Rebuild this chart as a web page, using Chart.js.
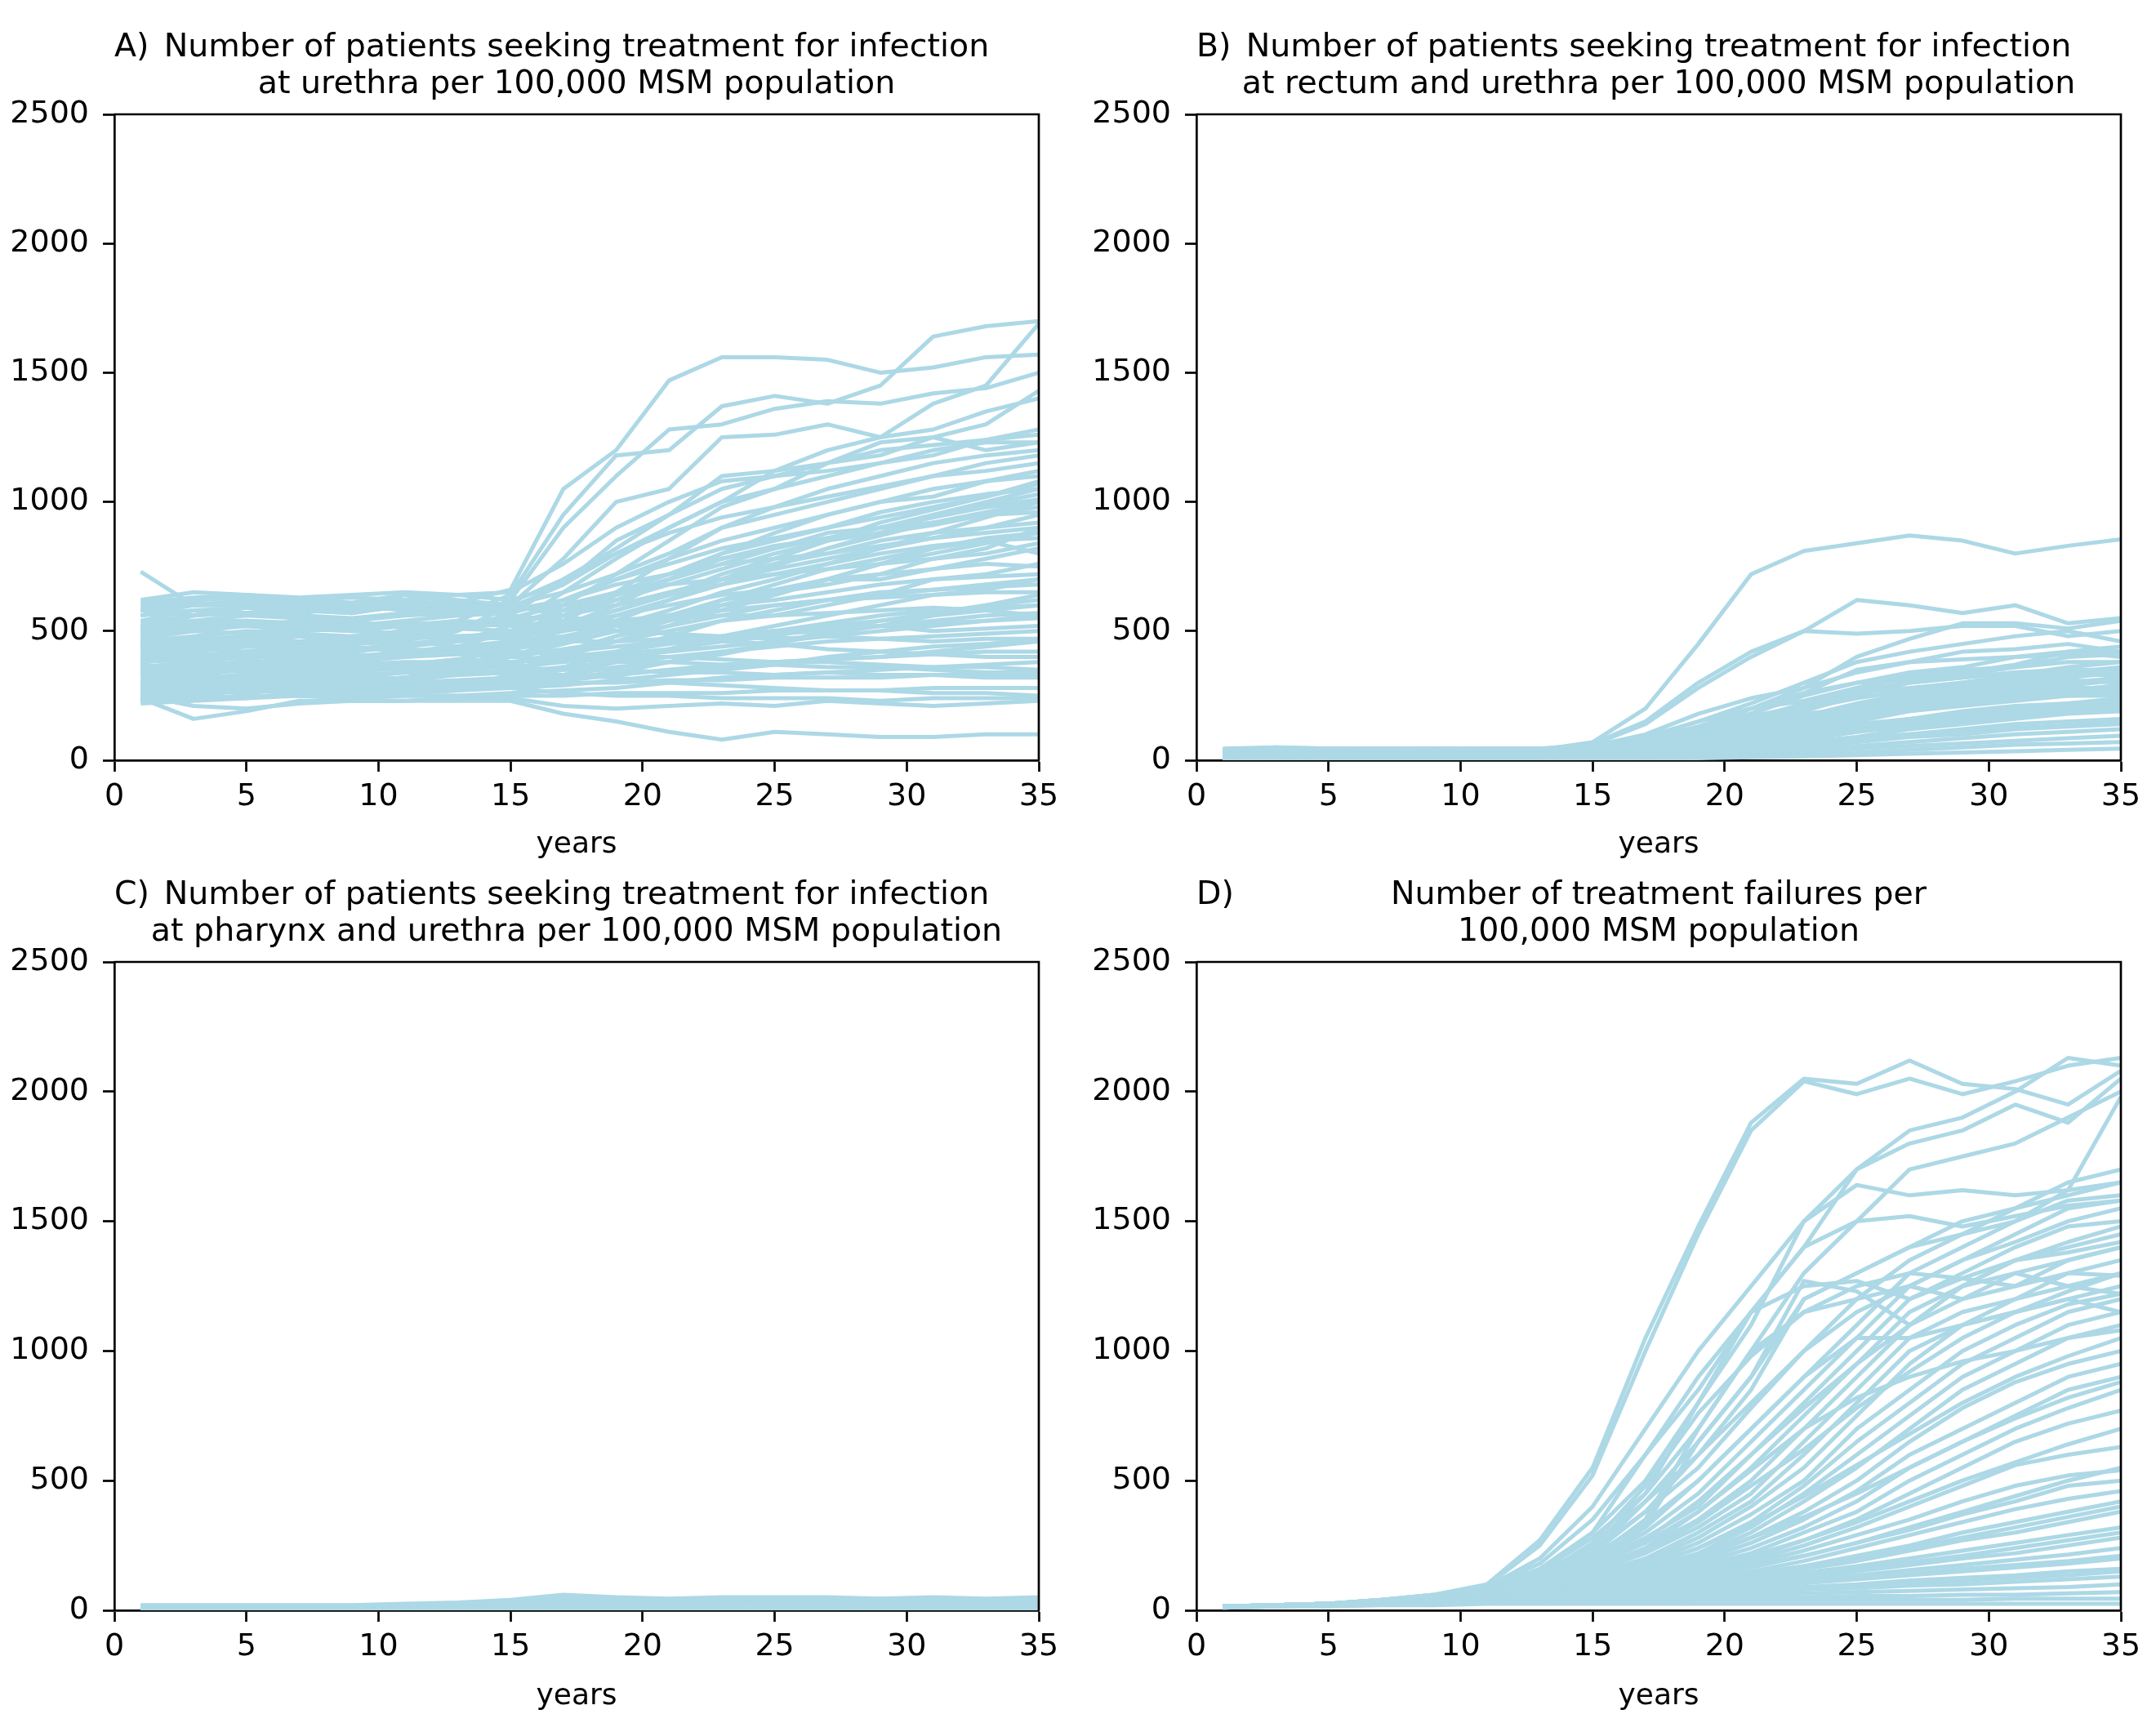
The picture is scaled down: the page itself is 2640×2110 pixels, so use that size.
<!DOCTYPE html>
<html>
<head>
<meta charset="utf-8">
<script src="https://cdn.jsdelivr.net/npm/chart.js@4.4.1/dist/chart.umd.min.js"></script>
<style>
  html, body { margin: 0; padding: 0; background: #fff; }
  #page { position: relative; width: 2640px; height: 2110px; background: #fff; }
  canvas { position: absolute; }
</style>
</head>
<body>
<div id="page">
  <canvas id="panelA" width="1320" height="1055" style="left:0;top:0"></canvas>
  <canvas id="panelB" width="1320" height="1055" style="left:1320px;top:0"></canvas>
  <canvas id="panelC" width="1320" height="1055" style="left:0;top:1055px"></canvas>
  <canvas id="panelD" width="1320" height="1055" style="left:1320px;top:1055px"></canvas>
</div>
<script>
// simulation years (every second year)
const years = [1, 3, 5, 7, 9, 11, 13, 15, 17, 19, 21, 23, 25, 27, 29, 31, 33, 35];
const yTicks = [0, 500, 1000, 1500, 2000, 2500];
const xTicks = [0, 5, 10, 15, 20, 25, 30, 35];

// A) urethra
const urethraRuns = [
  [500, 560, 600, 580, 570, 600, 610, 660, 1050, 1200, 1470, 1560, 1560, 1550, 1500, 1520, 1560, 1570],
  [450, 520, 540, 530, 520, 540, 560, 640, 950, 1180, 1200, 1370, 1410, 1380, 1450, 1640, 1680, 1700],
  [480, 500, 520, 510, 500, 520, 540, 620, 900, 1100, 1280, 1300, 1360, 1390, 1380, 1420, 1440, 1500],
  [400, 430, 450, 460, 450, 470, 500, 600, 780, 1000, 1050, 1250, 1260, 1300, 1250, 1380, 1450, 1690],
  [420, 450, 470, 460, 480, 500, 520, 560, 700, 820, 950, 1050, 1100, 1150, 1230, 1250, 1300, 1430],
  [380, 400, 420, 430, 420, 440, 460, 520, 650, 780, 900, 1000, 1120, 1200, 1250, 1280, 1350, 1400],
  [350, 380, 400, 410, 400, 420, 440, 500, 600, 720, 850, 980, 1050, 1150, 1200, 1220, 1240, 1260],
  [500, 540, 560, 550, 540, 560, 570, 590, 680, 800, 900, 1000, 1050, 1100, 1150, 1200, 1230, 1230],
  [330, 360, 380, 390, 380, 400, 420, 460, 560, 650, 780, 900, 980, 1050, 1100, 1150, 1180, 1200],
  [560, 600, 610, 600, 590, 610, 600, 600, 650, 720, 800, 900, 950, 1000, 1050, 1100, 1120, 1150],
  [300, 330, 350, 360, 350, 370, 390, 430, 520, 600, 700, 800, 880, 950, 1000, 1050, 1080, 1100],
  [460, 480, 500, 490, 480, 500, 510, 530, 580, 650, 720, 800, 850, 900, 960, 1000, 1030, 1050],
  [280, 300, 320, 330, 320, 340, 360, 400, 470, 540, 620, 700, 780, 850, 900, 950, 980, 1000],
  [540, 580, 590, 580, 570, 600, 590, 580, 600, 640, 700, 760, 820, 880, 900, 920, 950, 960],
  [400, 420, 440, 440, 430, 450, 460, 480, 520, 580, 640, 700, 760, 800, 850, 880, 900, 920],
  [260, 280, 300, 310, 300, 320, 340, 370, 420, 480, 540, 620, 680, 740, 780, 820, 850, 860],
  [600, 620, 630, 620, 610, 640, 620, 600, 580, 600, 640, 680, 720, 760, 800, 830, 850, 800],
  [360, 380, 400, 400, 390, 410, 420, 440, 470, 520, 560, 600, 650, 700, 720, 740, 760, 750],
  [440, 460, 470, 460, 460, 470, 480, 490, 500, 530, 560, 600, 620, 650, 680, 700, 710, 720],
  [320, 340, 360, 360, 350, 370, 380, 400, 430, 460, 500, 540, 580, 620, 650, 660, 670, 680],
  [500, 520, 530, 520, 510, 520, 530, 520, 520, 540, 560, 580, 600, 620, 630, 640, 650, 650],
  [240, 260, 270, 280, 270, 290, 300, 320, 350, 390, 430, 470, 500, 530, 560, 580, 590, 600],
  [580, 600, 600, 590, 580, 590, 580, 560, 540, 540, 550, 560, 560, 570, 580, 590, 580, 560],
  [380, 390, 400, 400, 390, 400, 410, 410, 420, 440, 460, 480, 500, 510, 520, 530, 540, 550],
  [300, 310, 320, 320, 310, 320, 330, 340, 360, 380, 400, 420, 440, 460, 470, 480, 490, 500],
  [460, 470, 480, 480, 470, 480, 480, 470, 460, 460, 470, 480, 470, 480, 470, 460, 470, 470],
  [260, 270, 280, 280, 270, 280, 290, 300, 310, 330, 350, 370, 380, 390, 400, 410, 420, 420],
  [220, 230, 240, 250, 240, 250, 250, 260, 270, 280, 300, 320, 330, 340, 350, 360, 370, 380],
  [340, 350, 360, 360, 350, 360, 360, 360, 350, 350, 340, 340, 330, 340, 330, 330, 320, 320],
  [420, 430, 440, 430, 430, 430, 420, 420, 410, 400, 400, 390, 380, 380, 370, 360, 360, 350],
  [230, 240, 250, 250, 240, 250, 250, 250, 250, 260, 260, 260, 270, 270, 270, 280, 280, 280],
  [730, 600, 620, 610, 600, 640, 610, 600, 560, 520, 490, 460, 450, 430, 420, 410, 400, 400],
  [240, 160, 190, 230, 230, 230, 230, 230, 180, 150, 110, 80, 110, 100, 90, 90, 100, 100],
  [250, 210, 200, 220, 230, 230, 240, 240, 210, 200, 210, 220, 210, 230, 220, 210, 220, 230],
  [620, 650, 640, 630, 640, 650, 640, 620, 680, 850, 950, 1100, 1120, 1150, 1180, 1250, 1200, 1230],
  [360, 370, 380, 370, 370, 380, 380, 400, 450, 500, 560, 620, 650, 680, 720, 780, 820, 900],
  [290, 300, 300, 300, 290, 300, 310, 320, 330, 360, 380, 420, 450, 500, 540, 570, 600, 620],
  [520, 540, 540, 530, 520, 530, 530, 540, 560, 600, 650, 700, 740, 780, 820, 860, 900, 950],
  [400, 410, 410, 400, 400, 410, 410, 400, 390, 380, 380, 370, 370, 360, 360, 350, 340, 340],
  [270, 280, 290, 290, 280, 290, 290, 290, 300, 300, 310, 310, 320, 320, 320, 330, 330, 330],
  [330, 300, 320, 340, 330, 310, 330, 350, 400, 460, 520, 600, 640, 700, 760, 800, 840, 880],
  [470, 500, 490, 510, 500, 490, 510, 540, 620, 700, 760, 820, 860, 900, 940, 980, 1020, 1080],
  [560, 580, 570, 590, 600, 580, 570, 580, 620, 700, 780, 850, 900, 950, 1000, 1020, 1080, 1120],
  [250, 270, 260, 280, 290, 270, 280, 300, 330, 380, 430, 480, 520, 560, 600, 640, 660, 700],
  [610, 630, 640, 620, 630, 620, 640, 650, 760, 900, 1000, 1080, 1100, 1120, 1150, 1180, 1240, 1280],
  [350, 360, 340, 360, 370, 350, 360, 380, 400, 420, 450, 470, 490, 500, 520, 540, 560, 570],
  [430, 440, 450, 440, 450, 460, 440, 460, 480, 520, 580, 650, 700, 760, 820, 880, 940, 1000],
  [510, 530, 520, 540, 530, 520, 540, 530, 510, 500, 490, 480, 500, 510, 520, 500, 510, 520],
  [280, 290, 300, 290, 300, 310, 300, 310, 320, 340, 380, 410, 450, 490, 520, 560, 580, 600],
  [390, 400, 420, 410, 400, 420, 410, 430, 460, 500, 540, 580, 640, 700, 760, 820, 860, 880],
  [230, 250, 240, 260, 250, 260, 270, 280, 290, 310, 330, 350, 370, 400, 420, 440, 450, 470],
  [450, 440, 460, 450, 460, 450, 470, 480, 500, 560, 620, 680, 750, 820, 880, 950, 1000, 1050],
  [590, 610, 600, 610, 600, 620, 600, 590, 600, 620, 680, 740, 800, 850, 880, 910, 950, 980],
  [310, 320, 330, 340, 330, 340, 330, 340, 330, 320, 300, 290, 280, 270, 270, 260, 260, 250],
  [370, 350, 370, 380, 360, 370, 390, 380, 390, 410, 430, 460, 480, 520, 540, 560, 600, 640],
  [490, 510, 520, 500, 510, 530, 510, 500, 530, 580, 640, 720, 780, 850, 920, 970, 1020, 1070],
  [270, 260, 280, 270, 260, 270, 280, 280, 260, 250, 250, 240, 240, 240, 230, 240, 240, 240],
  [530, 560, 570, 560, 550, 570, 560, 570, 620, 680, 720, 780, 820, 860, 900, 940, 990, 1030],
  [410, 430, 420, 430, 440, 420, 430, 450, 500, 560, 620, 700, 760, 820, 870, 920, 960, 1000],
  [340, 360, 350, 340, 360, 350, 370, 360, 380, 400, 420, 440, 460, 480, 500, 520, 540, 560],
  [300, 280, 310, 330, 300, 320, 350, 330, 360, 420, 480, 540, 560, 600, 640, 700, 720, 760],
  [440, 470, 450, 480, 470, 500, 480, 490, 520, 560, 600, 640, 660, 700, 700, 740, 780, 820],
  [380, 410, 390, 420, 410, 400, 420, 450, 540, 640, 700, 760, 780, 800, 830, 860, 880, 900],
  [520, 500, 530, 510, 540, 510, 520, 550, 600, 650, 680, 700, 720, 740, 760, 780, 800, 840],
  [260, 250, 270, 260, 280, 260, 270, 290, 310, 330, 350, 360, 380, 390, 400, 420, 440, 460],
  [470, 450, 480, 490, 460, 480, 470, 500, 560, 620, 700, 780, 830, 860, 900, 940, 980, 1010],
  [350, 330, 360, 350, 340, 360, 350, 370, 420, 480, 520, 560, 600, 620, 640, 660, 680, 700],
  [580, 560, 590, 570, 590, 600, 580, 610, 700, 800, 880, 940, 980, 1020, 1060, 1100, 1150, 1180]
];

// B) rectum and urethra
const rectumRuns = [
  [40, 50, 45, 40, 45, 40, 40, 70, 200, 450, 720, 810, 840, 870, 850, 800, 830, 855],
  [35, 45, 40, 40, 40, 40, 40, 65, 150, 300, 420, 500, 620, 600, 570, 600, 530, 550],
  [30, 40, 40, 40, 40, 40, 40, 60, 140, 280, 400, 500, 490, 500, 520, 520, 480, 500],
  [30, 40, 35, 35, 35, 35, 35, 55, 100, 180, 240, 280, 400, 470, 530, 530, 510, 540],
  [25, 35, 35, 35, 35, 35, 35, 50, 90, 150, 220, 300, 380, 420, 450, 480, 500, 460],
  [25, 35, 30, 30, 30, 30, 30, 45, 80, 130, 200, 260, 350, 380, 420, 430, 450, 420],
  [20, 30, 30, 30, 30, 30, 30, 40, 70, 120, 180, 250, 300, 340, 360, 400, 420, 400],
  [20, 30, 30, 30, 30, 30, 30, 40, 60, 100, 160, 220, 280, 320, 350, 360, 380, 380],
  [15, 25, 25, 25, 25, 25, 25, 35, 55, 90, 140, 190, 250, 300, 320, 340, 350, 350],
  [15, 25, 25, 25, 25, 25, 25, 35, 50, 80, 120, 170, 220, 260, 290, 310, 330, 330],
  [10, 20, 20, 20, 20, 20, 20, 30, 45, 70, 100, 150, 200, 240, 270, 290, 310, 300],
  [10, 20, 20, 20, 20, 20, 20, 30, 40, 60, 90, 130, 180, 220, 250, 270, 280, 280],
  [10, 15, 15, 15, 15, 15, 15, 25, 35, 50, 80, 110, 150, 190, 220, 240, 250, 260],
  [5, 15, 15, 15, 15, 15, 15, 20, 30, 45, 70, 100, 130, 160, 190, 210, 220, 230],
  [5, 10, 10, 10, 10, 10, 10, 20, 25, 40, 60, 80, 110, 140, 160, 180, 200, 210],
  [5, 10, 10, 10, 10, 10, 10, 15, 20, 35, 50, 70, 90, 120, 140, 160, 180, 190],
  [5, 10, 10, 10, 10, 10, 10, 15, 20, 30, 40, 60, 80, 100, 120, 140, 150, 160],
  [0, 5, 5, 5, 5, 5, 5, 10, 15, 25, 35, 50, 70, 90, 100, 120, 130, 140],
  [0, 5, 5, 5, 5, 5, 5, 10, 15, 20, 30, 40, 55, 70, 85, 100, 110, 120],
  [0, 5, 5, 5, 5, 5, 5, 8, 10, 15, 25, 35, 45, 55, 65, 75, 85, 95],
  [0, 0, 0, 0, 0, 0, 0, 5, 8, 12, 18, 25, 30, 40, 50, 60, 65, 70],
  [0, 0, 0, 0, 0, 0, 0, 3, 5, 8, 12, 15, 20, 25, 30, 35, 40, 45],
  [40, 45, 45, 45, 45, 45, 45, 60, 90, 150, 200, 230, 280, 330, 340, 370, 420, 440],
  [35, 45, 40, 40, 40, 40, 40, 50, 80, 130, 180, 260, 300, 310, 330, 360, 400, 410],
  [25, 30, 30, 30, 30, 30, 30, 40, 60, 110, 170, 210, 260, 280, 300, 320, 340, 360],
  [20, 25, 25, 25, 25, 25, 25, 35, 55, 100, 150, 180, 200, 220, 240, 260, 270, 290],
  [15, 20, 20, 20, 20, 20, 20, 30, 40, 60, 80, 100, 120, 150, 180, 200, 210, 220],
  [10, 15, 15, 15, 15, 15, 15, 20, 30, 40, 55, 70, 85, 100, 115, 125, 135, 150],
  [30, 35, 35, 35, 35, 35, 35, 45, 70, 110, 160, 200, 240, 270, 300, 330, 360, 380],
  [20, 30, 25, 25, 25, 25, 25, 35, 60, 90, 130, 170, 210, 250, 280, 300, 320, 340],
  [15, 20, 20, 20, 20, 20, 20, 25, 40, 70, 110, 150, 190, 230, 260, 280, 290, 310],
  [45, 50, 45, 45, 45, 45, 45, 55, 75, 100, 130, 160, 190, 210, 230, 250, 260, 270],
  [10, 15, 15, 15, 15, 15, 15, 20, 30, 50, 80, 120, 160, 200, 230, 250, 270, 290],
  [25, 30, 30, 30, 30, 30, 30, 40, 55, 80, 110, 140, 170, 190, 210, 230, 250, 250],
  [5, 10, 10, 10, 10, 10, 10, 15, 25, 45, 70, 95, 120, 145, 170, 190, 210, 230],
  [35, 40, 40, 40, 40, 40, 40, 50, 65, 90, 120, 150, 180, 210, 240, 270, 300, 320],
  [20, 25, 25, 25, 25, 25, 25, 30, 45, 65, 90, 110, 140, 160, 180, 200, 220, 240],
  [10, 15, 15, 15, 15, 15, 15, 20, 30, 45, 65, 90, 110, 130, 150, 170, 190, 200],
  [40, 45, 40, 40, 40, 40, 40, 50, 70, 120, 200, 280, 340, 380, 390, 400, 410, 420],
  [30, 35, 35, 35, 35, 35, 35, 45, 65, 100, 150, 220, 270, 300, 320, 340, 350, 330]
];

// C) pharynx and urethra
const pharynxRuns = [
  [20, 20, 20, 20, 20, 25, 30, 40, 60, 50, 45, 50, 50, 50, 45, 50, 45, 50],
  [18, 18, 18, 18, 18, 22, 26, 35, 52, 45, 42, 46, 48, 46, 44, 46, 42, 46],
  [15, 15, 15, 15, 15, 18, 22, 30, 45, 40, 38, 42, 42, 42, 40, 40, 38, 40],
  [12, 12, 12, 12, 12, 15, 18, 25, 38, 34, 32, 36, 36, 36, 34, 34, 32, 34],
  [10, 10, 10, 10, 10, 12, 15, 20, 30, 28, 27, 30, 30, 30, 28, 28, 27, 28],
  [8, 8, 8, 8, 8, 10, 12, 16, 24, 22, 22, 24, 24, 24, 22, 22, 22, 22],
  [5, 5, 5, 5, 5, 7, 9, 12, 18, 16, 16, 18, 18, 18, 16, 16, 16, 16],
  [3, 3, 3, 3, 3, 5, 6, 8, 12, 11, 11, 12, 12, 12, 11, 11, 11, 11],
  [1, 1, 1, 1, 1, 2, 3, 4, 6, 6, 6, 6, 6, 6, 6, 6, 6, 6],
  [0, 0, 0, 0, 0, 0, 0, 0, 1, 1, 1, 1, 1, 1, 1, 1, 1, 1]
];

// D) treatment failures
const failureRuns = [
  [15, 20, 25, 40, 60, 100, 270, 550, 1050, 1480, 1880, 2050, 2030, 2120, 2030, 2010, 1950, 2080],
  [15, 20, 25, 40, 60, 95, 250, 520, 1000, 1450, 1850, 2040, 1990, 2050, 1990, 2040, 2100, 2130],
  [15, 20, 25, 40, 60, 90, 200, 400, 700, 1000, 1250, 1500, 1700, 1850, 1900, 2000, 2130, 2100],
  [15, 20, 25, 40, 55, 90, 180, 350, 600, 850, 1150, 1400, 1700, 1800, 1850, 1950, 1880, 2050],
  [15, 20, 25, 40, 55, 85, 160, 300, 500, 800, 1100, 1500, 1640, 1600, 1620, 1600, 1620, 1980],
  [15, 20, 25, 40, 55, 85, 150, 280, 450, 700, 1000, 1300, 1500, 1700, 1750, 1800, 1900, 2000],
  [15, 20, 25, 35, 55, 80, 140, 250, 420, 600, 850, 1200, 1300, 1400, 1500, 1550, 1650, 1700],
  [15, 20, 25, 35, 55, 80, 130, 230, 380, 550, 780, 1000, 1200, 1350, 1450, 1550, 1600, 1650],
  [15, 20, 25, 35, 50, 80, 120, 210, 340, 500, 700, 900, 1100, 1300, 1400, 1500, 1580, 1600],
  [15, 20, 25, 35, 50, 80, 110, 190, 300, 450, 650, 850, 1050, 1250, 1350, 1450, 1550, 1580],
  [15, 20, 25, 35, 50, 75, 110, 180, 280, 400, 600, 800, 1000, 1200, 1300, 1400, 1480, 1500],
  [15, 20, 25, 35, 50, 75, 100, 170, 260, 380, 550, 750, 950, 1150, 1250, 1350, 1400, 1450],
  [15, 20, 25, 35, 50, 75, 100, 160, 240, 350, 500, 700, 900, 1100, 1200, 1250, 1350, 1400],
  [15, 20, 25, 35, 50, 70, 95, 150, 220, 320, 450, 650, 850, 1050, 1150, 1200, 1300, 1350],
  [15, 20, 25, 35, 50, 70, 95, 140, 200, 300, 420, 600, 800, 1000, 1100, 1200, 1250, 1300],
  [15, 20, 25, 35, 50, 70, 90, 130, 190, 280, 400, 550, 750, 950, 1100, 1150, 1200, 1250],
  [15, 20, 25, 35, 50, 70, 90, 125, 180, 260, 370, 500, 700, 850, 1000, 1100, 1180, 1220],
  [15, 20, 25, 35, 45, 65, 85, 120, 170, 240, 340, 480, 650, 800, 950, 1050, 1150, 1200],
  [15, 20, 25, 35, 45, 65, 85, 115, 160, 220, 320, 450, 600, 750, 900, 1000, 1100, 1150],
  [15, 20, 25, 35, 45, 65, 80, 110, 150, 210, 300, 420, 550, 700, 850, 950, 1050, 1100],
  [15, 20, 25, 35, 45, 60, 80, 105, 140, 200, 280, 380, 500, 650, 780, 880, 950, 1000],
  [15, 20, 25, 35, 45, 60, 75, 100, 135, 190, 260, 350, 460, 600, 700, 800, 900, 950],
  [15, 20, 25, 35, 45, 60, 75, 100, 130, 180, 240, 320, 420, 550, 650, 750, 850, 900],
  [15, 20, 25, 30, 45, 60, 70, 95, 125, 170, 220, 300, 380, 500, 600, 700, 780, 850],
  [15, 20, 25, 30, 40, 55, 70, 90, 120, 160, 200, 270, 350, 450, 550, 650, 720, 770],
  [15, 20, 25, 30, 40, 55, 70, 90, 115, 150, 190, 250, 320, 400, 480, 560, 600, 630],
  [15, 20, 25, 30, 40, 55, 65, 85, 110, 140, 180, 230, 290, 350, 420, 480, 520, 540],
  [15, 20, 25, 30, 40, 55, 65, 85, 105, 130, 165, 210, 260, 310, 370, 420, 480, 500],
  [15, 20, 25, 30, 40, 50, 60, 80, 100, 120, 150, 190, 240, 290, 340, 390, 430, 460],
  [15, 20, 25, 30, 40, 50, 60, 75, 95, 115, 140, 170, 210, 250, 300, 340, 380, 420],
  [15, 20, 25, 30, 40, 50, 60, 75, 90, 110, 130, 160, 190, 230, 270, 300, 340, 380],
  [15, 20, 25, 30, 35, 50, 55, 70, 85, 100, 120, 145, 170, 200, 230, 260, 290, 320],
  [15, 20, 25, 30, 35, 45, 55, 70, 80, 95, 110, 130, 150, 175, 200, 220, 250, 280],
  [15, 20, 25, 30, 35, 45, 55, 65, 75, 90, 100, 120, 135, 155, 175, 195, 215, 240],
  [15, 20, 25, 30, 35, 45, 50, 60, 70, 80, 90, 105, 120, 135, 150, 165, 180, 200],
  [15, 20, 25, 30, 35, 40, 50, 55, 65, 75, 80, 90, 100, 115, 125, 135, 150, 160],
  [15, 20, 25, 30, 35, 40, 45, 50, 60, 65, 70, 80, 85, 95, 100, 110, 120, 130],
  [15, 20, 25, 30, 35, 40, 45, 50, 55, 60, 60, 65, 70, 75, 80, 85, 90, 100],
  [10, 15, 20, 25, 30, 35, 40, 45, 45, 50, 50, 50, 55, 55, 60, 60, 65, 70],
  [10, 15, 20, 25, 30, 30, 35, 35, 35, 40, 40, 40, 40, 40, 40, 45, 45, 45],
  [10, 15, 15, 20, 20, 25, 25, 25, 25, 25, 25, 25, 25, 25, 25, 25, 25, 25],
  [15, 20, 25, 35, 50, 80, 120, 200, 350, 700, 1000, 1150, 1200, 1250, 1200, 1300, 1250, 1220],
  [15, 20, 25, 35, 50, 75, 110, 180, 330, 650, 900, 1270, 1230, 1100, 1250, 1300, 1350, 1400],
  [15, 20, 25, 35, 50, 75, 110, 170, 270, 420, 600, 780, 950, 1100, 1250, 1350, 1420, 1480],
  [15, 20, 25, 35, 50, 70, 100, 150, 230, 340, 480, 620, 780, 920, 1050, 1150, 1230, 1300],
  [15, 20, 25, 30, 45, 65, 85, 120, 170, 240, 330, 440, 560, 680, 800, 900, 980, 1050],
  [15, 20, 25, 30, 45, 60, 80, 110, 150, 210, 280, 360, 450, 550, 650, 740, 820, 880],
  [15, 20, 25, 30, 40, 55, 70, 95, 125, 160, 210, 270, 340, 420, 500, 570, 640, 700],
  [15, 20, 25, 30, 40, 55, 65, 85, 105, 135, 170, 210, 260, 320, 380, 440, 500, 550],
  [15, 20, 25, 30, 40, 50, 60, 75, 95, 115, 140, 170, 200, 240, 280, 320, 360, 400],
  [15, 20, 25, 30, 35, 45, 55, 65, 80, 95, 115, 135, 160, 185, 210, 240, 270, 300],
  [15, 20, 25, 30, 35, 45, 50, 60, 70, 85, 95, 110, 125, 140, 160, 175, 190, 210],
  [15, 20, 25, 30, 35, 40, 45, 55, 60, 70, 75, 85, 95, 105, 115, 125, 135, 150],
  [15, 20, 25, 35, 50, 80, 130, 240, 450, 800, 1150, 1400, 1500, 1520, 1480, 1520, 1560, 1580],
  [15, 20, 25, 35, 50, 75, 120, 220, 380, 600, 800, 1000, 1150, 1250, 1350, 1420, 1500, 1550],
  [15, 20, 25, 35, 55, 85, 150, 300, 600, 900, 1150, 1250, 1270, 1200, 1280, 1250, 1300, 1290],
  [15, 20, 25, 35, 50, 80, 130, 260, 480, 760, 980, 1150, 1250, 1300, 1280, 1350, 1380, 1420],
  [15, 20, 25, 35, 50, 75, 120, 220, 420, 650, 900, 1200, 1300, 1400, 1450, 1500, 1620, 1650],
  [15, 20, 25, 35, 50, 70, 110, 190, 320, 500, 700, 900, 1050, 1050, 1100, 1150, 1200, 1150],
  [15, 20, 25, 30, 45, 65, 95, 150, 240, 380, 540, 700, 820, 900, 960, 1000, 1050, 1080]
];

const titles = {
  A: ["Number of patients seeking treatment for infection", "at urethra per 100,000 MSM population"],
  B: ["Number of patients seeking treatment for infection", "at rectum and urethra per 100,000 MSM population"],
  C: ["Number of patients seeking treatment for infection", "at pharynx and urethra per 100,000 MSM population"],
  D: ["Number of treatment failures per", "100,000 MSM population"]
};

const LINE_COLOR = "#add8e6";
const FONT = "'DejaVu Sans', sans-serif";
const TITLE_SIZE = 39.5;
const TITLE_LH = 1.12;
const TICK_SIZE = 38;

Chart.defaults.font.family = FONT;
Chart.defaults.color = "#000";

// centre the title over the plot area, add top/right spines and the panel tag
const framePlugin = {
  id: "frame",
  afterLayout(chart) {
    const t = chart.titleBlock;
    if (t) {
      t.left = chart.chartArea.left;
      t.right = chart.chartArea.right;
    }
  },
  afterDraw(chart, args, opts) {
    const { ctx, chartArea } = chart;
    ctx.save();
    ctx.strokeStyle = "#000";
    ctx.lineWidth = 2.7;
    ctx.beginPath();
    ctx.moveTo(chartArea.left, chartArea.top);
    ctx.lineTo(chartArea.right, chartArea.top);
    ctx.lineTo(chartArea.right, chartArea.bottom);
    ctx.stroke();
    ctx.font = TITLE_SIZE + "px " + FONT;
    ctx.fillStyle = "#000";
    ctx.textAlign = "left";
    ctx.textBaseline = "middle";
    ctx.fillText(opts.tag, chartArea.left, opts.tagY);
    ctx.restore();
  }
};

function makePanel(canvasId, tag, title, runs, box) {
  const lineH = TITLE_SIZE * TITLE_LH;
  const titleTop = box.titleMid - lineH / 2;
  const canvas = document.getElementById(canvasId);

  new Chart(canvas.getContext("2d"), {
    type: "line",
    data: {
      datasets: runs.map(run => ({
        data: run.map((v, i) => ({ x: years[i], y: v })),
        borderColor: LINE_COLOR,
        backgroundColor: LINE_COLOR,
        borderWidth: 5,
        borderJoinStyle: "round",
        pointRadius: 0,
        fill: false,
        tension: 0
      }))
    },
    options: {
      responsive: false,
      animation: false,
      devicePixelRatio: 1,
      layout: { padding: { left: 0, right: canvas.width - box.right, top: 0, bottom: 0 } },
      plugins: {
        legend: { display: false },
        tooltip: { enabled: false },
        title: {
          display: true,
          text: title,
          font: { size: TITLE_SIZE, weight: "normal", lineHeight: TITLE_LH },
          color: "#000",
          padding: { top: titleTop, bottom: box.top - titleTop - 2 * lineH }
        },
        frame: { tag: tag, tagY: box.titleMid }
      },
      scales: {
        x: {
          type: "linear",
          min: 0,
          max: 35,
          afterBuildTicks: s => { s.ticks = xTicks.map(v => ({ value: v })); },
          ticks: { font: { size: TICK_SIZE }, color: "#000", padding: 8, maxRotation: 0, autoSkip: false, callback: v => String(v) },
          grid: { drawOnChartArea: false, drawTicks: true, tickLength: 14, tickWidth: 2.7, tickColor: "#000" },
          border: { display: true, color: "#000", width: 2.7 },
          title: { display: true, text: "years", font: { size: 36, lineHeight: 1.0 }, color: "#000", padding: { top: 0, bottom: box.xTitlePad } },
          afterFit: s => { s.height = canvas.height - box.bottom; }
        },
        y: {
          min: 0,
          max: 2500,
          afterBuildTicks: s => { s.ticks = yTicks.map(v => ({ value: v })); },
          ticks: { font: { size: TICK_SIZE }, color: "#000", padding: 17, autoSkip: false, callback: v => String(v) },
          grid: { drawOnChartArea: false, drawTicks: true, tickLength: 14, tickWidth: 2.7, tickColor: "#000" },
          border: { display: true, color: "#000", width: 2.7 },
          afterFit: s => { s.width = box.left; }
        }
      }
    },
    plugins: [framePlugin]
  });
}

makePanel("panelA", "A)", titles.A, urethraRuns, { left: 140, right: 1272, top: 140, bottom: 931, titleMid: 59, xTitlePad: 2 });
makePanel("panelB", "B)", titles.B, rectumRuns, { left: 145, right: 1277, top: 140, bottom: 931, titleMid: 59, xTitlePad: 2 });
makePanel("panelC", "C)", titles.C, pharynxRuns, { left: 140, right: 1272, top: 123, bottom: 917, titleMid: 42, xTitlePad: 14 });
makePanel("panelD", "D)", titles.D, failureRuns, { left: 145, right: 1277, top: 123, bottom: 917, titleMid: 42, xTitlePad: 14 });
</script>
</body>
</html>
